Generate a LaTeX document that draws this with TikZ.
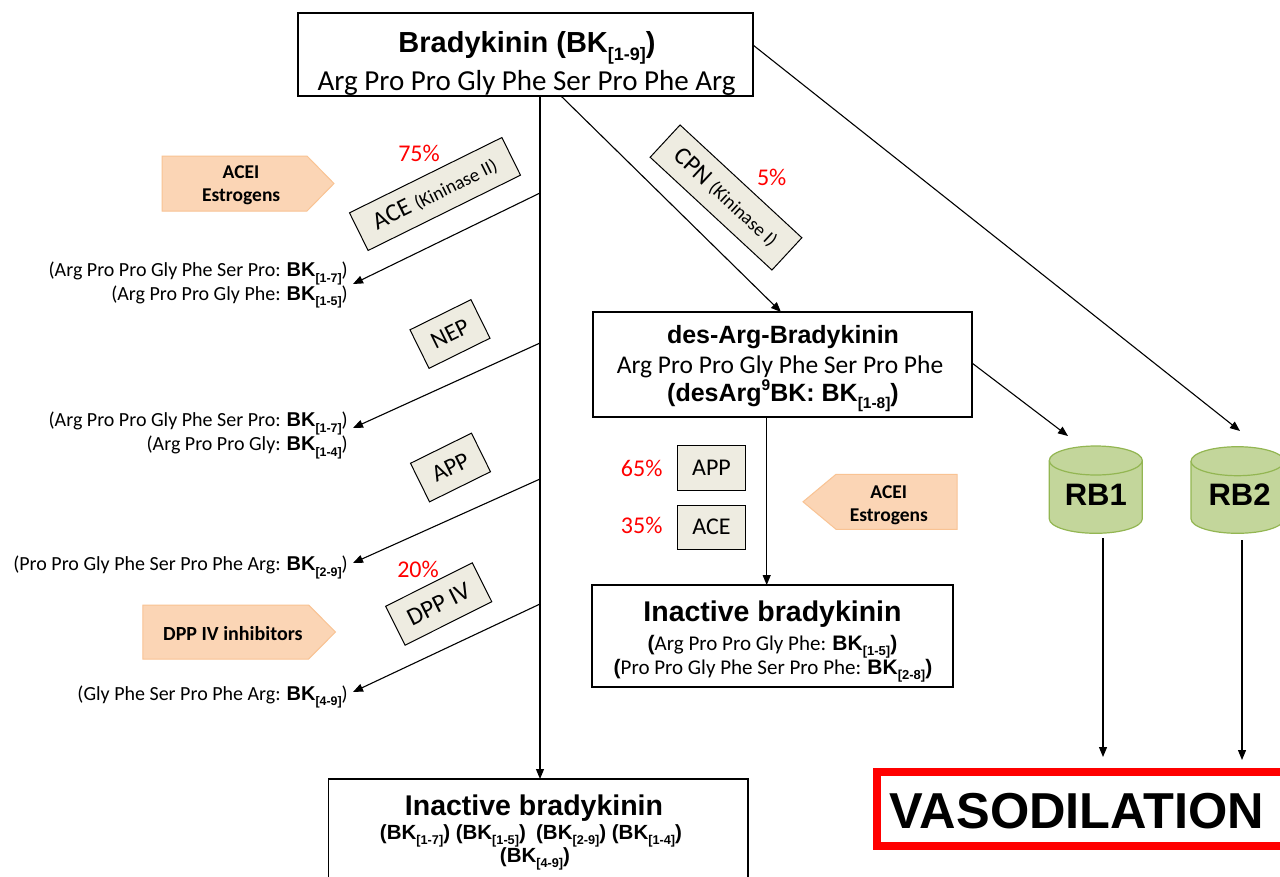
\documentclass[tikz,border=0pt]{standalone}
\usepackage{fontspec}
\setmainfont{Carlito}
\newfontfamily\arialf{Liberation Sans}
\usetikzlibrary{arrows.meta,calc}
\definecolor{enzfill}{HTML}{EEECE1}
\definecolor{orfill}{HTML}{FBD5B5}
\definecolor{ordraw}{HTML}{F9C393}
\definecolor{cylfill}{HTML}{C3D69B}
\definecolor{cyldraw}{HTML}{93B652}
\newcommand\fsz[1]{\fontsize{#1}{#1}\selectfont}
\newcommand\sbk[1]{\raisebox{-0.28em}{\scalebox{0.62}{#1}}}
\newcommand\spk[1]{\raisebox{0.45em}{\scalebox{0.62}{#1}}}
\newcommand\bkb{\arialf\bfseries}
\begin{document}
\begin{tikzpicture}[x=1pt,y=-1pt,
  box/.style={draw, line width=1.3pt, fill=white, inner sep=0pt, outer sep=0pt},
  arr/.style={line width=1.1pt, -{Triangle[length=10pt,width=8pt]}},
  enz/.style={draw, line width=1pt, fill=enzfill, inner sep=0pt, outer sep=0pt},
  pct/.style={text=red, font=\fsz{24}, inner sep=0pt, anchor=base},
  txt/.style={inner sep=0pt, anchor=base},
  lab/.style={inner sep=0pt, anchor=base east, font=\fsz{20}},
  inh/.style={fill=orfill, draw=ordraw, line width=1pt},
  inhtxt/.style={inner sep=0pt, anchor=base, font=\bfseries\fsz{19.5}},
  cyl/.style={fill=cylfill, draw=cyldraw, line width=1.2pt}]
\useasboundingbox (0,0) rectangle (1280,876);
\fill[white] (0,0) rectangle (1280,876);

% ---------- main boxes ----------
\node[box, minimum width=455pt, minimum height=83pt] (bk) at (525.5,54.5) {};
\node[txt, font=\bkb\fsz{29}] (bkT) at (527,52) {Bradykinin (BK\sbk{[1-9]})};
\node[txt, font=\fsz{29}] (bkS) at (526.5,90) {Arg Pro Pro Gly Phe Ser Pro Phe Arg};

\node[box, minimum width=379pt, minimum height=105pt] (da) at (782.5,364.5) {};
\node[txt, font=\bkb\fsz{25}] (daT) at (783,343) {des-Arg-Bradykinin};
\node[txt, font=\fsz{25.5}] (daS) at (780,373) {Arg Pro Pro Gly Phe Ser Pro Phe};
\node[txt, font=\bkb\fsz{25}] (daF) at (783,401.5) {(desArg\spk{9}BK: BK\sbk{[1-8]})};

\node[box, minimum width=361pt, minimum height=102pt] (ib) at (772.5,636) {};
\node[txt, font=\bkb\fsz{28.5}] (ibT) at (772.5,621) {Inactive bradykinin};
\node[txt, font=\fsz{21}] (ibA) at (772.5,650) {{\bkb(}Arg Pro Pro Gly Phe: {\bkb BK\sbk{[1-5]})}};
\node[txt, font=\fsz{21}] (ibB) at (773,674) {{\bkb(}Pro Pro Gly Phe Ser Pro Phe: {\bkb BK\sbk{[2-8]})}};

\node[box, anchor=north, minimum width=419.5pt, minimum height=150pt] (bot) at (538.25,779) {};
\node[txt, font=\bkb\fsz{28.5}] (botT) at (534,815) {Inactive bradykinin};
\node[txt, font=\bkb\fsz{20.5}] (botA) at (531,839) {(BK\sbk{[1-7]}) (BK\sbk{[1-5]})\hspace{0.5em}(BK\sbk{[2-9]}) (BK\sbk{[1-4]})};
\node[txt, font=\bkb\fsz{20.5}] (botB) at (535,862) {(BK\sbk{[4-9]})};

% ---------- enzymes ----------
\node[enz, rotate=26.3, minimum width=170pt, minimum height=42pt] (ace) at (435,194) {\fsz{25}ACE {\fsz{19}(Kininase II)}};
\node[enz, rotate=26.3, minimum width=68pt, minimum height=43pt] (nep) at (450,334) {\fsz{24}NEP};
\node[enz, rotate=26.3, minimum width=68pt, minimum height=43pt] (app) at (450.5,467.5) {\fsz{24}APP};
\node[enz, rotate=26.6, minimum width=97pt, minimum height=43.5pt] (dpp) at (438.7,604) {\fsz{25}DPP IV};
\node[enz, rotate=-42.8, minimum width=166pt, minimum height=44pt] (cpn) at (726,197.5) {\fsz{25}CPN {\fsz{19}(Kininase I)}};
\node[enz, minimum width=68.4pt, minimum height=44.3pt] (app2) at (711.5,467.9) {\fsz{24}APP};
\node[enz, minimum width=68.4pt, minimum height=44pt] (ace2) at (711.5,527) {\fsz{24}ACE};

% ---------- percentages ----------
\node[pct] (p75) at (419,161.7) {75\%};
\node[pct] (p5) at (771.7,185.7) {5\%};
\node[pct] (p20) at (418,577.7) {20\%};
\node[pct] (p65) at (641.7,476.7) {65\%};
\node[pct] (p35) at (641.7,533) {35\%};

% ---------- inhibitor arrows ----------
\draw[inh] (162,156) -- (307,156) -- (334,183.5) -- (307,211) -- (162,211) -- cycle;
\node[inhtxt] (i1a) at (241,178) {ACEI};
\node[inhtxt] (i1b) at (241.2,201.7) {Estrogens};
\draw[inh] (142.8,605) -- (308.6,605) -- (335.5,632) -- (308.6,659) -- (142.8,659) -- cycle;
\node[inhtxt, font=\bfseries\fsz{20}] (i2) at (232.9,640) {DPP IV inhibitors};
\draw[inh] (957,474.3) -- (836,474.3) -- (803,501.8) -- (836,529.3) -- (957,529.3) -- cycle;
\node[inhtxt] (i3a) at (888.8,498) {ACEI};
\node[inhtxt] (i3b) at (888.8,521.7) {Estrogens};

% ---------- left products ----------
\node[lab] (l1a) at (348,276.7) {(Arg Pro Pro Gly Phe Ser Pro: {\bkb BK\sbk{[1-7]}})};
\node[lab] (l1b) at (348,300) {(Arg Pro Pro Gly Phe: {\bkb BK\sbk{[1-5]}})};
\node[lab] (l2a) at (348,426.7) {(Arg Pro Pro Gly Phe Ser Pro: {\bkb BK\sbk{[1-7]}})};
\node[lab] (l2b) at (348,450.7) {(Arg Pro Pro Gly: {\bkb BK\sbk{[1-4]}})};
\node[lab] (l3) at (348,570.7) {(Pro Pro Gly Phe Ser Pro Phe Arg: {\bkb BK\sbk{[2-9]}})};
\node[lab] (l4) at (348,700) {(Gly Phe Ser Pro Phe Arg: {\bkb BK\sbk{[4-9]}})};

% ---------- receptors ----------
\draw[cyl] (1049.3,460.5) -- (1049.3,518.8) arc[start angle=180, end angle=0, x radius=46.5, y radius=14.5]
  -- (1142.3,460.5) arc[start angle=0, end angle=-180, x radius=46.5, y radius=14.5] -- cycle;
\draw[cyl] (1049.3,460.5) arc[start angle=180, end angle=0, x radius=46.5, y radius=14.5];
\node[txt, font=\bkb\fsz{31}] (rb1) at (1095.8,505) {RB1};
\draw[cyl] (1191,461.2) -- (1191,518.8) arc[start angle=180, end angle=0, x radius=46.5, y radius=14.5]
  -- (1284,461.2) arc[start angle=0, end angle=-180, x radius=46.5, y radius=14.5] -- cycle;
\draw[cyl] (1191,461.2) arc[start angle=180, end angle=0, x radius=46.5, y radius=14.5];
\node[txt, font=\bkb\fsz{31}] (rb2) at (1239.5,505) {RB2};

% ---------- vasodilation ----------
\node[draw=red, line width=8pt, inner sep=0pt, minimum width=425pt, minimum height=74pt] (vaso) at (1089.5,809) {};
\node[txt, font=\bkb\fsz{50.5}] (vasoT) at (1077,828.5) {VASODILATION};

% ---------- coordinates ----------
\coordinate (trunk) at (540,0);
\coordinate (j1) at (540,193);   \coordinate (e1) at (353,284);
\coordinate (j2) at (540,343);   \coordinate (e2) at (353,428);
\coordinate (j3) at (540,479);   \coordinate (e3) at (353,563);
\coordinate (j4) at (540,604);   \coordinate (e4) at (353,692);
\coordinate (rb1in) at (1068,436);
\coordinate (rb2in) at (1240,431);
\coordinate (rb1out) at (1103,538);
\coordinate (rb2out) at (1242,540);

% ---------- connectors ----------
\draw[arr] (bk.south -| trunk) -- (bot.north -| trunk);
\draw[arr] (j1) -- (e1);
\draw[arr] (j2) -- (e2);
\draw[arr] (j3) -- (e3);
\draw[arr] (j4) -- (e4);
\draw[arr] (bk.south -| 561,0) -- (da.north -| 781,0);
\draw[arr] (bk.east |- 0,45) -- (rb2in);
\draw[arr] (da.east |- 0,363) -- (rb1in);
\draw[arr] (da.south -| 766.7,0) -- (ib.north -| 766.7,0);
\draw[arr, shorten >=11pt] (rb1out) -- (rb1out |- vaso.north);
\draw[arr, shorten >=8pt] (rb2out) -- (rb2out |- vaso.north);
\end{tikzpicture}
\end{document}
